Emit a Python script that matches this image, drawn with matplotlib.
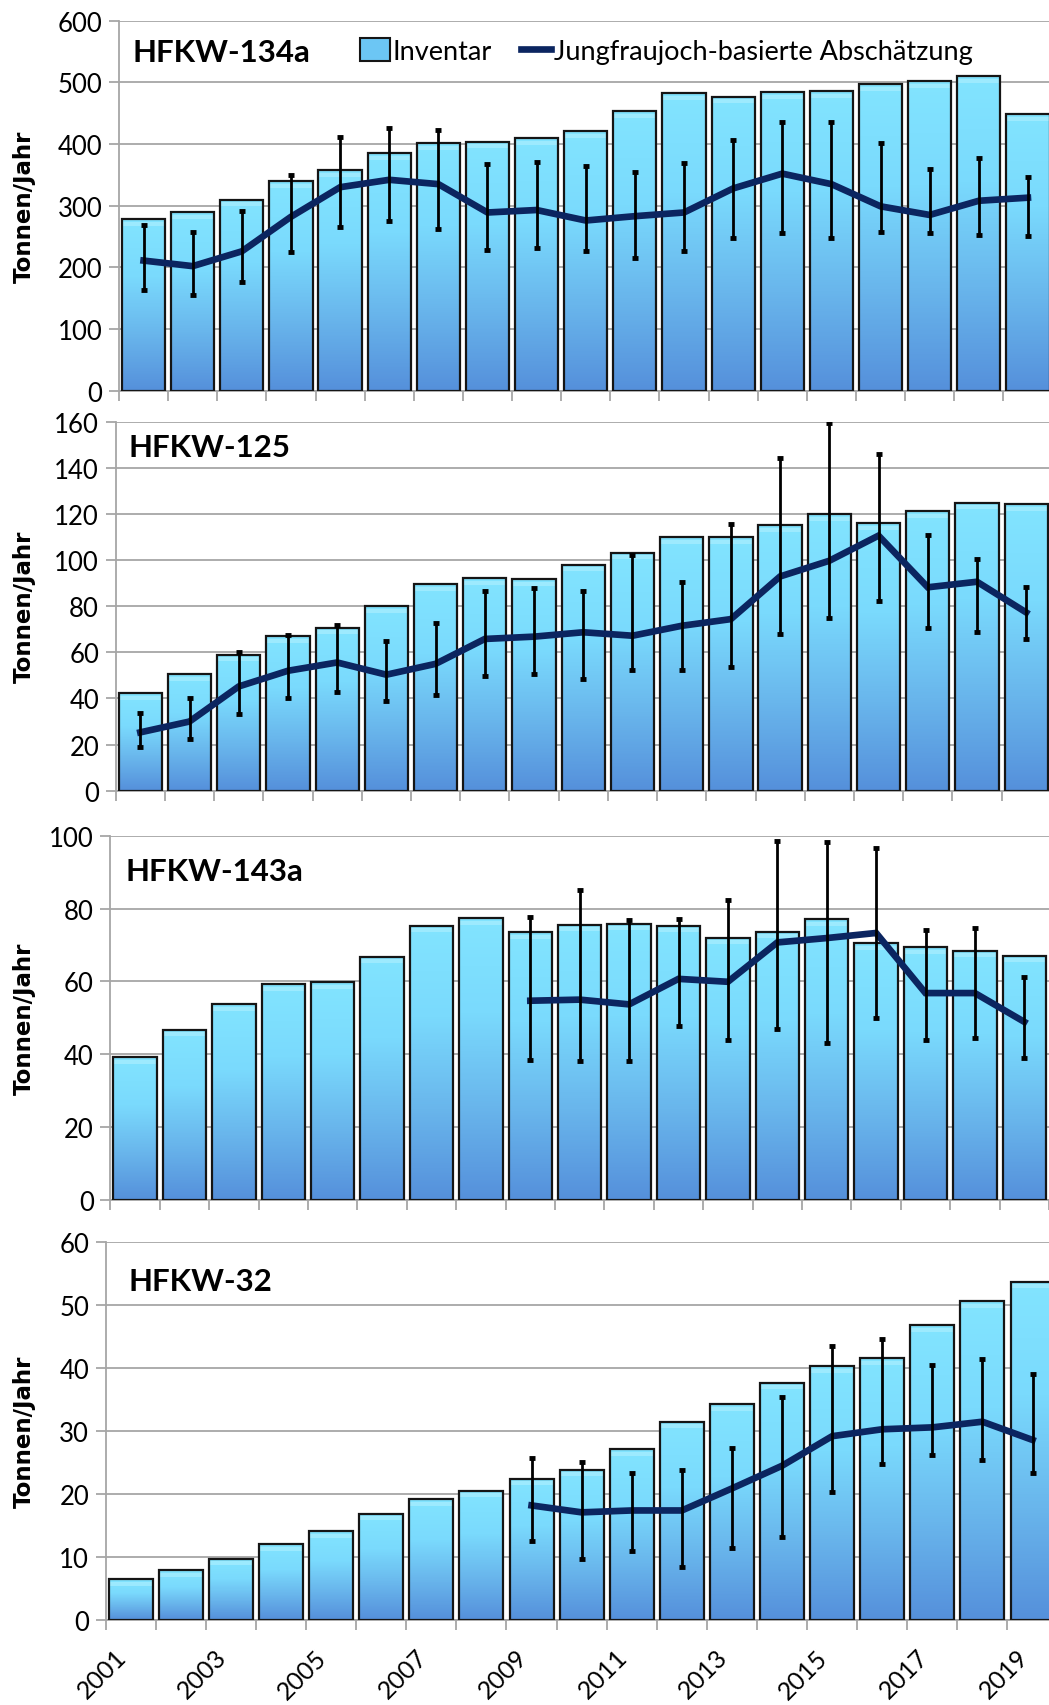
import numpy as np
import matplotlib
matplotlib.use('Agg')
import matplotlib.pyplot as plt
from matplotlib.colors import LinearSegmentedColormap, to_rgba
from matplotlib.patches import Patch
from matplotlib.lines import Line2D

nan = np.nan
years = list(range(2001, 2020))
tick_years = [str(y) for y in years[::2]]

# HFKW-134a
inv_134a = [278, 289, 310, 340, 358, 385, 402, 404, 410, 421, 454, 483, 477, 484, 486, 497, 502, 510, 448]
est_134a = [211, 202, 226, 282, 330, 342, 335, 289, 293, 276, 283, 289, 328, 352, 335, 299, 285, 308, 313]
lo_134a = [163, 156, 176, 225, 266, 275, 263, 228, 231, 226, 215, 227, 248, 256, 247, 258, 256, 253, 251]
hi_134a = [269, 257, 291, 349, 412, 426, 423, 368, 371, 365, 355, 370, 406, 435, 436, 402, 359, 377, 347]

# HFKW-125
inv_125 = [42.3, 50.6, 59, 67, 70.7, 80, 89.6, 92.2, 91.9, 98, 103.2, 109.8, 110.1, 115, 119.8, 116.2, 121.3, 124.9, 124.4]
est_125 = [25.3, 30, 45.2, 52, 55.6, 50.3, 55, 65.8, 66.8, 68.7, 67.2, 71.5, 74.4, 92.9, 99.7, 110.6, 88.2, 90.6, 77.3]
lo_125 = [18.8, 22.3, 33.4, 40, 42.6, 38.9, 41.5, 49.7, 50.6, 48.3, 52.5, 52.5, 53.8, 68.1, 75, 82.4, 70.5, 68.8, 65.8]
hi_125 = [33.5, 40, 60, 67.5, 72, 65, 72.7, 86.4, 87.9, 86.4, 102, 90.5, 115.5, 144.4, 159.3, 146.1, 110.9, 100.3, 88.2]

# HFKW-143a
inv_143a = [39.2, 46.8, 53.8, 59.2, 59.8, 66.8, 75.3, 77.3, 73.5, 75.5, 75.8, 75.3, 72, 73.7, 77.1, 70.5, 69.4, 68.4, 67]
est_143a = [nan] * 8 + [54.7, 55, 53.7, 60.7, 59.9, 70.7, 71.9, 73.3, 56.8, 56.8, 48.9]
lo_143a = [nan] * 8 + [38.4, 38.2, 38.2, 47.9, 43.9, 46.9, 43.1, 50, 43.9, 44.6, 39.1]
hi_143a = [nan] * 8 + [77.8, 85.1, 76.8, 77.1, 82.3, 98.5, 98.4, 96.5, 74, 74.6, 61.2]

# HFKW-32
inv_32 = [6.5, 7.9, 9.7, 12, 14.1, 16.9, 19.2, 20.5, 22.4, 23.9, 27.1, 31.5, 34.3, 37.7, 40.3, 41.6, 46.8, 50.6, 53.7]
est_32 = [nan] * 8 + [18.2, 17.1, 17.4, 17.4, 20.9, 24.5, 29.2, 30.3, 30.6, 31.5, 28.6]
lo_32 = [nan] * 8 + [12.6, 9.7, 10.9, 8.4, 11.4, 13.2, 20.4, 24.8, 26.2, 25.4, 23.3]
hi_32 = [nan] * 8 + [25.7, 25.1, 23.3, 23.8, 27.4, 35.5, 43.6, 44.7, 40.5, 41.4, 39]

names = ['HFKW-134a', 'HFKW-125', 'HFKW-143a', 'HFKW-32']
ymax = [600, 160, 100, 60]
ystep = [100, 20, 20, 10]

panels = [
    (inv_134a, est_134a, lo_134a, hi_134a),
    (inv_125, est_125, lo_125, hi_125),
    (inv_143a, est_143a, lo_143a, hi_143a),
    (inv_32, est_32, lo_32, hi_32),
]

# axes boxes in pixels: left, top, right, bottom
W, H = 1049, 1706
boxes = [(119, 21.7, 1052.5, 391.7),
         (115.7, 422.7, 1050.8, 791.7),
         (110.4, 836.7, 1049.0, 1201),
         (105.7, 1243.3, 1057.6, 1621)]
title_pos = [(0.0145, 0.916), (0.0142, 0.931), (0.0166, 0.903), (0.0238, 0.8975)]

bar_cmap = LinearSegmentedColormap.from_list('bars', ['#5590DB', '#69B6EC', '#7ADAFD', '#82E4FF'])
highlight = np.array(to_rgba('#B4F1FF'))
navy = '#0B2560'
grid_c = '#A6A6A6'
tick_font = 'Lato'

fig = plt.figure(figsize=(W / 100, H / 100), dpi=100)
x = np.arange(len(years))
bw = 0.88


def bar_image(npx):
    # vertical gradient, one row per pixel, with a light bevel strip under the top edge
    npx = max(npx, 3)
    img = bar_cmap(np.linspace(0, 1, npx))
    if npx > 12:
        img[-7:-3] = 0.45 * img[-7:-3] + 0.55 * highlight
    return img.reshape(npx, 1, 4)


for i, (inv, est, lo, hi) in enumerate(panels):
    l, t, r, b = boxes[i]
    ax = fig.add_axes([l / W, 1 - b / H, (r - l) / W, (b - t) / H])
    inv = np.array(inv, dtype=float)
    est = np.array(est, dtype=float)
    lo = np.array(lo, dtype=float)
    hi = np.array(hi, dtype=float)

    px_per_unit = (b - t) / ymax[i]
    for xi, v in zip(x, inv):
        ax.imshow(bar_image(int(round(v * px_per_unit))), extent=(xi - bw / 2, xi + bw / 2, 0, v),
                  origin='lower', aspect='auto', interpolation='nearest', zorder=2)
    ax.bar(x, inv, width=bw, facecolor='none', edgecolor='#151515', linewidth=1.6, zorder=3)

    ax.plot(x, est, color=navy, lw=4.8, solid_joinstyle='miter', zorder=4)
    ax.errorbar(x, est, yerr=[est - lo, hi - est], fmt='none', ecolor='black',
                elinewidth=2, capsize=2.2, capthick=3.5, zorder=5)

    ax.set_xlim(-0.5, len(years) - 0.5)
    ax.set_ylim(0, ymax[i])
    ax.set_yticks(np.arange(0, ymax[i] + 1, ystep[i]))
    ax.yaxis.grid(True, color=grid_c, lw=1.3)
    ax.set_axisbelow(True)
    for s in ['top', 'right']:
        ax.spines[s].set_visible(False)
    for s in ['left', 'bottom']:
        ax.spines[s].set_color(grid_c)
        ax.spines[s].set_linewidth(1.3)
    ax.tick_params(axis='y', length=7, width=1.3, color=grid_c, pad=5, labelsize=18.5)
    for lab in ax.get_yticklabels():
        lab.set_fontfamily(tick_font)

    ax.set_xticks(np.arange(-0.5, len(years) - 0.4, 1))
    ax.tick_params(axis='x', which='major', length=7, width=1.3, color=grid_c, labelbottom=False)
    if i == len(panels) - 1:
        ax.set_xticks(x[::2], minor=True)
        ax.set_xticklabels(tick_years, minor=True, rotation=45, ha='right', va='top',
                           fontsize=18, fontfamily=tick_font)
        ax.tick_params(axis='x', which='minor', length=0, pad=18)

    ax.text(title_pos[i][0], title_pos[i][1], names[i], transform=ax.transAxes,
            ha='left', va='center', fontsize=22.5, fontweight='bold', fontfamily='Lato')

    ax.set_ylabel('Tonnen/Jahr', fontsize=16.5, fontweight='bold', fontfamily='DejaVu Sans')
    ax.yaxis.set_label_coords((36 - l) / (r - l), 0.5)

    if i == 0:
        handles = [Patch(facecolor='#6CC6F4', edgecolor='#151515', linewidth=1.5),
                   Line2D([0], [0], color=navy, lw=4.8)]
        ax.legend(handles, ['Inventar', 'Jungfraujoch-basierte Abschätzung'],
                  loc='center left', bbox_to_anchor=(0.258, 0.918), ncol=2, frameon=False,
                  prop={'family': 'Lato', 'size': 19.5}, handlelength=1.1, handleheight=0.9,
                  handletextpad=0.1, columnspacing=1.1, borderaxespad=0, borderpad=0)

fig.savefig('out.png', dpi=100)
